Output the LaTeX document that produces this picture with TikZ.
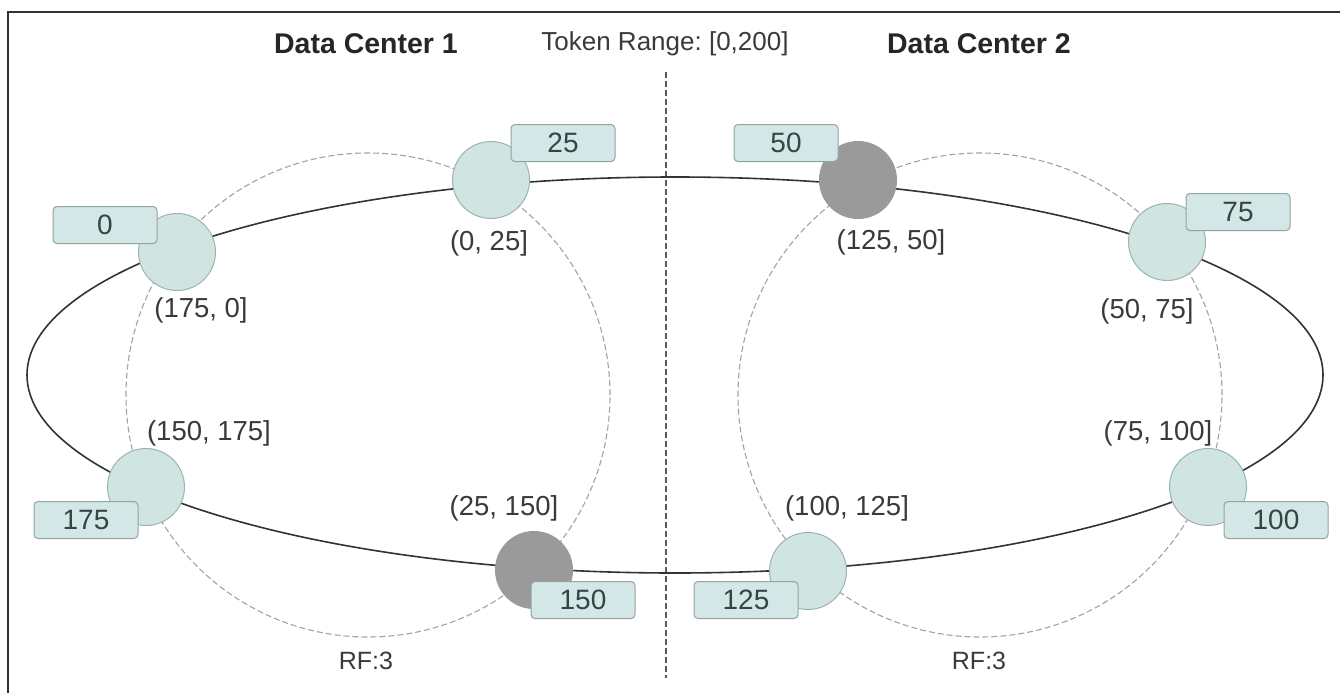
\documentclass[tikz,border=0pt]{standalone}
\usepackage{fontspec}
\setmainfont{Liberation Sans}
\frenchspacing
\definecolor{ringcol}{HTML}{333333}
\definecolor{nodefill}{HTML}{D0E4E2}
\definecolor{nodeline}{HTML}{9DB3B0}
\definecolor{boxfill}{HTML}{D3E8E6}
\definecolor{boxline}{HTML}{93A3A1}
\definecolor{busyfill}{HTML}{9A9A9A}
\definecolor{txtcol}{HTML}{3A3A3A}
\definecolor{numcol}{HTML}{354545}
\definecolor{rfcol}{HTML}{A3A3A3}
\definecolor{splitcol}{HTML}{5A5A5A}
\tikzset{
  vnode/.style={circle, minimum size=77pt, inner sep=0pt, fill=nodefill, draw=nodeline, line width=1pt},
  busy/.style={vnode, fill=busyfill, draw=busyfill},
  tokbox/.style={rectangle, rounded corners=4pt, minimum width=104pt, minimum height=37pt, inner sep=0pt,
    fill=boxfill, draw=boxline, line width=1pt, text=numcol, font=\fontsize{28}{30}\selectfont},
  tokspan/.style={text=txtcol, inner sep=0pt, font=\fontsize{27.5}{30}\selectfont},
  rfnote/.style={text=txtcol, inner sep=0pt, font=\fontsize{25}{28}\selectfont},
  dctitle/.style={text=black!85, inner sep=0pt, font=\fontsize{28.5}{31}\selectfont\bfseries},
  replica/.style={draw=rfcol, line width=1.1pt, dash pattern=on 6pt off 3pt},
  ringline/.style={draw=ringcol, line width=1.6pt},
}
\begin{document}
\begin{tikzpicture}[x=1pt,y=-1pt]
\useasboundingbox (0,0) rectangle (1340,693);
\fill[white] (0,0) rectangle (1340,693);

% outer frame (top and left edges only)
\draw[line width=2pt, color=ringcol] (7.5,693) -- (7.5,12.5) -- (1340,12.5);

% headings
\node[dctitle] (dc1) at (366,44) {Data Center 1};
\node[text=txtcol, inner sep=0pt, font=\fontsize{26}{28}\selectfont] (tok) at (665,44) {Token Range: [0,200]};
\node[dctitle] (dc2) at (979,44) {Data Center 2};

% split between the two data centers
\coordinate (splitTop) at (666,72);
\coordinate (splitBot) at (666,678);
\draw[draw=splitcol, line width=1.6pt, dash pattern=on 6pt off 3pt] (splitTop) -- (splitBot);

% replication groups (RF:3)
\draw[replica] (368,395) circle [radius=242pt];
\draw[replica] (980,395) circle [radius=242pt];

% token ring
\draw[ringline] (675,375) ellipse [x radius=648pt, y radius=198pt];

% vnodes of data center 1
\node[vnode] (n0)   at (177,252) {};
\node[vnode] (n25)  at (491,180) {};
\node[busy]  (n150) at (534,570) {};
\node[vnode] (n175) at (146,487) {};

% vnodes of data center 2
\node[busy]  (n50)  at (858,180) {};
\node[vnode] (n75)  at (1167,242) {};
\node[vnode] (n100) at (1208,487) {};
\node[vnode] (n125) at (808,571) {};

% token boxes
\node[tokbox] (b0)   at (105,225) {0};
\node[tokbox] (b25)  at (563,143) {25};
\node[tokbox] (b150) at (583,600) {150};
\node[tokbox] (b175) at (86,520)  {175};
\node[tokbox] (b50)  at (786,143) {50};
\node[tokbox] (b75)  at (1238,212) {75};
\node[tokbox] (b100) at (1276,520) {100};
\node[tokbox] (b125) at (746,600) {125};

% token ranges
\node[tokspan] (r0)   at (201,310) {(175, 0]};
\node[tokspan] (r25)  at (489,243) {(0, 25]};
\node[tokspan] (r150) at (504,508) {(25, 150]};
\node[tokspan] (r175) at (209,433) {(150, 175]};
\node[tokspan] (r50)  at (891,242) {(125, 50]};
\node[tokspan] (r75)  at (1147,311) {(50, 75]};
\node[tokspan] (r100) at (1158,433) {(75, 100]};
\node[tokspan] (r125) at (847,508) {(100, 125]};

% replication factors
\node[rfnote] (rf1) at (366,661) {RF:3};
\node[rfnote] (rf2) at (979,661) {RF:3};
\end{tikzpicture}
\end{document}
